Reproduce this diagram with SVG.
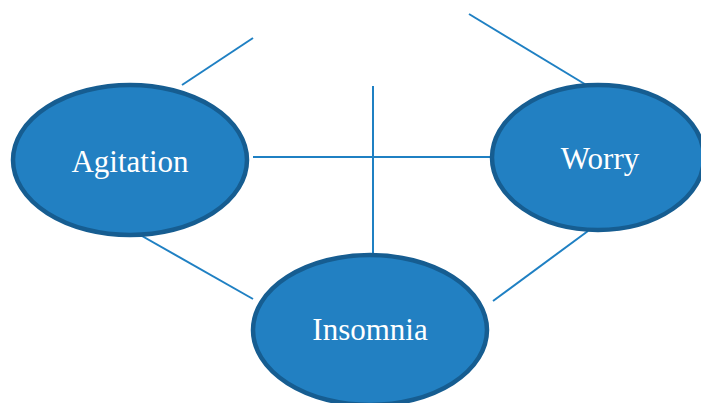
<svg xmlns="http://www.w3.org/2000/svg" width="701" height="403" viewBox="0 0 701 403">
<style>
.node ellipse{fill:#2280C2;stroke:#165D91;stroke-width:4.5}
.node text{font-family:'Times New Roman','Liberation Serif',serif;font-size:31px;fill:#fff;text-anchor:middle}
.conn line{stroke:#1F80C3;stroke-width:2}
</style>
<rect width="701" height="403" fill="#fff"/>
<g id="connectors" class="conn">
<line x1="182" y1="85" x2="253" y2="38"/>
<line x1="469" y1="14" x2="588" y2="86"/>
<line x1="373" y1="86" x2="373" y2="254"/>
<line x1="253" y1="157" x2="492" y2="157"/>
<line x1="135" y1="232" x2="253" y2="299"/>
<line x1="493" y1="301" x2="588" y2="231"/>
</g>
<g id="agitation" class="node">
<ellipse cx="130" cy="160" rx="117" ry="75"/>
<text x="130" y="172">Agitation</text>
</g>
<g id="worry" class="node">
<ellipse cx="598" cy="157.5" rx="106" ry="72.5"/>
<text x="600" y="169">Worry</text>
</g>
<g id="insomnia" class="node">
<ellipse cx="370" cy="330" rx="117" ry="75"/>
<text x="370" y="340">Insomnia</text>
</g>
</svg>
